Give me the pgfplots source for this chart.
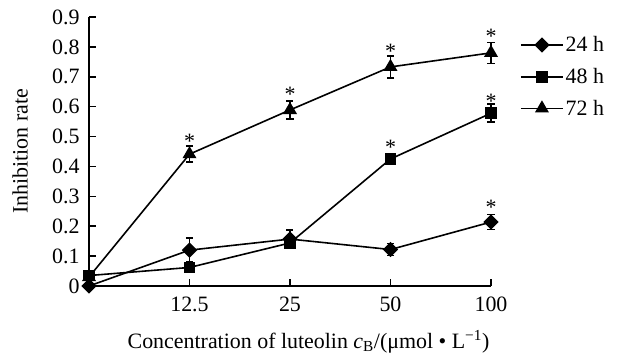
\documentclass[border=0pt]{standalone}
\usepackage{pgfplots}
\pgfplotsset{compat=1.18}
\usepackage{fontspec}
\setmainfont{Liberation Serif}
\newcommand{\lf}{\fontsize{22}{26}\selectfont}
\begin{document}
\begin{tikzpicture}
\begin{axis}[
  scale only axis, width=402bp, height=269bp,
  xmin=0, xmax=4, ymin=0, ymax=0.9,
  clip=false,
  axis x line*=bottom, axis y line*=left,
  axis line style={line width=1.6bp, black, -},
  tick align=inside,
  major tick style={line width=1.6bp, black},
  major tick length=7bp,
  xtick={1,2,3,4}, xticklabels={12.5,25,50,100},
  ytick={0,0.1,0.2,0.3,0.4,0.5,0.6,0.7,0.8,0.9},
  /pgf/number format/assume math mode=true,
  ticklabel style={font=\lf},
  yticklabel style={xshift=-6bp},
  xticklabel style={yshift=-7bp},
  xlabel={Concentration of luteolin \textit{c}\textsubscript{B}/(μmol • L\textsuperscript{−1})},
  xlabel style={font=\lf, at={(axis description cs:0.546,0)}, anchor=center, yshift=-56bp},
  ylabel={Inhibition rate},
  ylabel style={font=\lf, at={(axis description cs:-0.1716,0.5)}, anchor=center},
  every axis plot/.append style={line width=1.6bp, black},
  legend style={draw=none, fill=none, at={(axis description cs:1.072,0.935)}, anchor=north west,
    font=\lf, row sep=11bp, inner sep=0pt},
  legend cell align=left,
  legend image code/.code={\draw[mark repeat=2,mark phase=2,#1] plot coordinates {(0bp,0bp) (21bp,0bp) (42bp,0bp)};},
  error bars/y dir=both, error bars/y explicit,
  error bars/error bar style={line width=1.6bp, black},
  error bars/error mark options={line width=1.6bp, mark size=3.5bp, rotate=90},
]
\addplot[mark=square*, mark size=4.6bp, mark options={rotate=45, solid, fill=black}]
  coordinates {(0,0) +- (0,0) (1,0.12) +- (0,0.04) (2,0.157) +- (0,0.03) (3,0.122) +- (0,0.02) (4,0.214) +- (0,0.025)};
\addlegendentry{24 h}
\addplot[mark=square*, mark size=5bp, mark options={solid, fill=black}]
  coordinates {(0,0.035) +- (0,0) (1,0.062) +- (0,0.005) (2,0.144) +- (0,0.015) (3,0.425) +- (0,0.01) (4,0.578) +- (0,0.03)};
\addlegendentry{48 h}
\addplot[mark=triangle*, mark size=6.5bp, mark options={solid, fill=black}]
  coordinates {(0,0.03) +- (0,0) (1,0.441) +- (0,0.027) (2,0.589) +- (0,0.03) (3,0.733) +- (0,0.037) (4,0.78) +- (0,0.035)};
\addlegendentry{72 h}
\addplot[forget plot, draw=none, mark=none, nodes near coords={*},
  every node near coord/.append style={font=\lf, anchor=center, inner sep=0pt, yshift=-4bp}]
  coordinates {(1,0.498) (2,0.655) (3,0.799) (4,0.85) (3,0.478) (4,0.632) (4,0.278)};
\end{axis}
\pgfresetboundingbox
\path (current axis.south west) ++(-89bp,-72bp) rectangle ++(618bp,358bp);
\end{tikzpicture}
\end{document}
